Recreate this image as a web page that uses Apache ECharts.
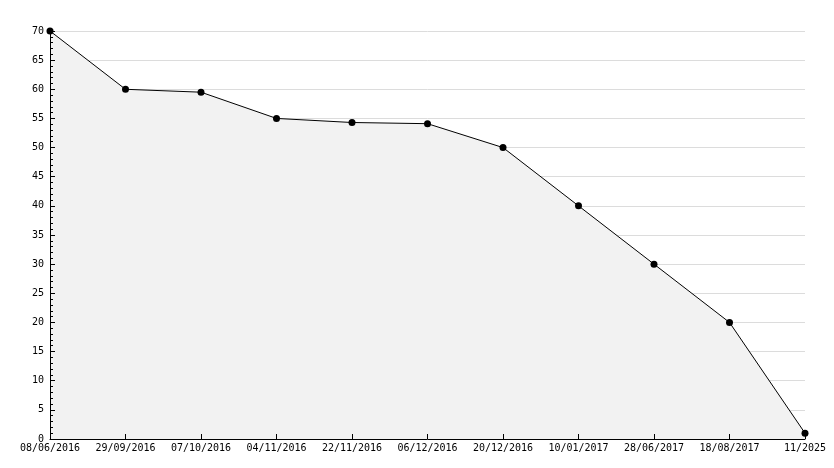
<!DOCTYPE html>
<html>
<head>
<meta charset="utf-8">
<script src="https://cdn.jsdelivr.net/npm/echarts@6/dist/echarts.min.js"></script>
<style>html,body{margin:0;padding:0;background:#fff}#c{width:834px;height:468px}</style>
</head>
<body>
<div id="c"></div>
<script>
var categories = ['08/06/2016','29/09/2016','07/10/2016','04/11/2016','22/11/2016','06/12/2016','20/12/2016','10/01/2017','28/06/2017','18/08/2017','11/2025'];
var values = [70, 60, 59.5, 55, 54.3, 54.1, 50, 40, 30, 20, 1];
var yMin = 0, yMax = 70, yStep = 5;

var font = 'DejaVu Sans Mono';
var chart = echarts.init(document.getElementById('c'), null, {renderer: 'canvas'});
chart.setOption({
  animation: false,
  backgroundColor: '#fff',
  grid: {left: 50, right: 29, top: 31, bottom: 29},
  xAxis: {
    type: 'category',
    data: categories,
    boundaryGap: false,
    z: 10,
    axisLine: {lineStyle: {color: '#000', width: 1}},
    axisTick: {show: true, inside: true, length: 5, interval: 0, lineStyle: {color: '#000'}},
    axisLabel: {color: '#000', fontFamily: font, fontSize: 10, margin: 4, interval: 0},
    splitLine: {show: false}
  },
  yAxis: [{
    type: 'value',
    min: yMin, max: yMax, interval: yStep,
    z: 0,
    axisLine: {show: false},
    axisTick: {show: false},
    axisLabel: {show: false},
    splitLine: {show: true, lineStyle: {color: '#dcdcdc', width: 1}}
  }, {
    type: 'value',
    position: 'left',
    min: yMin, max: yMax, interval: yStep,
    z: 10,
    axisLine: {show: true, lineStyle: {color: '#000', width: 1}},
    axisTick: {show: true, inside: true, length: 5, lineStyle: {color: '#000'}},
    minorTick: {show: true, splitNumber: 5, length: 3, lineStyle: {color: '#000'}},
    axisLabel: {color: '#000', fontFamily: font, fontSize: 10, margin: 6},
    splitLine: {show: false}
  }],
  series: [{
    type: 'line',
    data: values,
    yAxisIndex: 0,
    symbol: 'circle',
    symbolSize: 7,
    itemStyle: {color: '#000'},
    lineStyle: {color: '#000', width: 1},
    areaStyle: {color: '#f2f2f2', opacity: 1}
  }]
});
</script>
</body>
</html>
